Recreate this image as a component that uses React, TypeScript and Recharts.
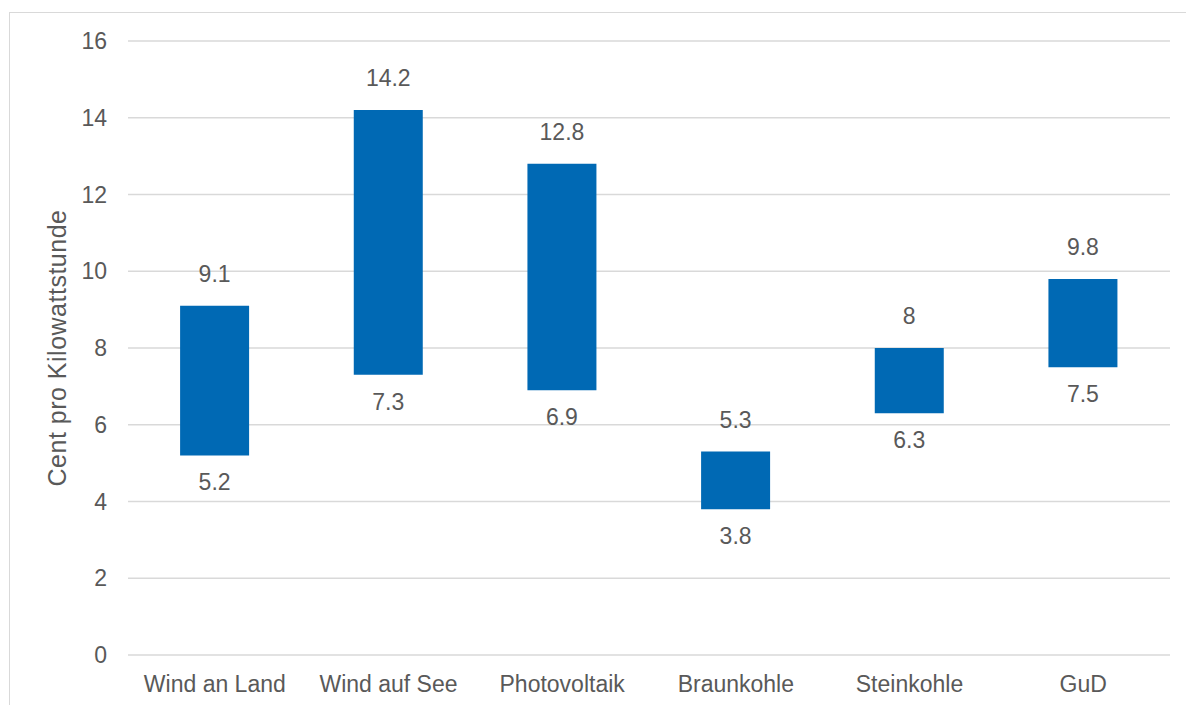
import React from 'react';
import { BarChart, Bar, XAxis, YAxis, CartesianGrid, LabelList } from 'recharts';

const categories = ['Wind an Land', 'Wind auf See', 'Photovoltaik', 'Braunkohle', 'Steinkohle', 'GuD'];
const lowValues = [5.2, 7.3, 6.9, 3.8, 6.3, 7.5];
const highValues = [9.1, 14.2, 12.8, 5.3, 8, 9.8];
const yTicks = [0, 2, 4, 6, 8, 10, 12, 14, 16];

const data = categories.map((name, i) => ({ name, range: [lowValues[i], highValues[i]] }));

const TEXT = '#595959';
const FONT = '"Liberation Sans", Arial, sans-serif';

const RangeLabels = (props: any) => {
  const { x, y, width, height, index } = props;
  const top = Math.min(y, y + height);
  const bottom = Math.max(y, y + height);
  const cx = x + width / 2;
  return (
    <g>
      <text x={cx} y={top - 32} textAnchor="middle" dominantBaseline="central" fill={TEXT} fontSize={23} fontFamily={FONT}>
        {highValues[index]}
      </text>
      <text x={cx} y={bottom + 27} textAnchor="middle" dominantBaseline="central" fill={TEXT} fontSize={23} fontFamily={FONT}>
        {lowValues[index]}
      </text>
    </g>
  );
};

const AxisTitle = (props: any) => {
  const { viewBox } = props;
  const x = viewBox.x + 57;
  const y = viewBox.y + viewBox.height / 2;
  return (
    <text x={x} y={y} transform={`rotate(-90, ${x}, ${y})`} textAnchor="middle" dominantBaseline="central"
      fill={TEXT} fontSize={25} letterSpacing={0.5} fontFamily={FONT}>
      Cent pro Kilowattstunde
    </text>
  );
};

export default function App() {
  return (
    <div style={{ position: 'absolute', left: 0, top: 0, width: 1186, height: 705, overflow: 'hidden', background: '#fff' }}>
      {/* chart frame, cut off at right and bottom like the source */}
      <div style={{ position: 'absolute', left: 9, top: 12, width: 1200, height: 720, border: '1.5px solid #d9d9d9' }} />
      <div style={{ position: 'absolute', left: 0, top: 0 }}>
        <BarChart width={1186} height={705} data={data} margin={{ top: 41, right: 16, left: 0, bottom: 0 }} barCategoryGap="30%">
          <CartesianGrid vertical={false} stroke="#d9d9d9" strokeWidth={1.5} />
          <XAxis dataKey="name" height={50} axisLine={false} tickLine={false} tickSize={0} tickMargin={21}
            tick={{ fill: TEXT, fontSize: 23, fontFamily: FONT }} interval={0} />
          <YAxis width={128} domain={[0, 16]} ticks={yTicks} axisLine={false} tickLine={false} tickSize={0} tickMargin={21}
            tick={{ fill: TEXT, fontSize: 23, fontFamily: FONT }} label={<AxisTitle />} />
          <Bar dataKey="range" fill="#0069B4" isAnimationActive={false}>
            <LabelList dataKey="range" content={<RangeLabels />} />
          </Bar>
        </BarChart>
      </div>
    </div>
  );
}
